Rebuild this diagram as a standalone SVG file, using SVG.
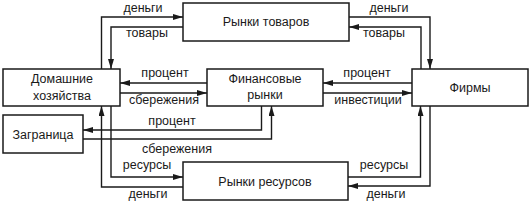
<svg xmlns="http://www.w3.org/2000/svg" width="531" height="204" viewBox="0 0 531 204">
<defs>
<marker id="ah" viewBox="0 0 10 6" refX="10" refY="3" markerWidth="10" markerHeight="6" markerUnits="userSpaceOnUse" orient="auto">
<path d="M0,0 L10,3 L0,6 Z" fill="#1a1a1a"/>
</marker>
<style>
rect{fill:#fff;stroke:#1a1a1a;stroke-width:1.5}
text{font-family:"Liberation Sans",Arial,sans-serif;font-size:12.5px;fill:#1a1a1a;text-anchor:middle}
.c path{fill:none;stroke:#1a1a1a;stroke-width:1.4}
.a{marker-end:url(#ah)}
</style>
</defs>
<rect x="0" y="0" width="531" height="204" style="fill:#fff;stroke:none"/>
<g class="c" id="connectors">
<path class="a" d="M101.5,69 V17 H183"/>
<path class="a" d="M183,27 H111 V69"/>
<path class="a" d="M349,17 H430 V69"/>
<path class="a" d="M421,69 V27 H349"/>
<path class="a" d="M207,83 H120"/>
<path class="a" d="M120,93 H207"/>
<path class="a" d="M412,83 H323"/>
<path class="a" d="M323,93 H412"/>
<path class="a" d="M261.5,106 V130 H83"/>
<path class="a" d="M83,139 H271.5 V106"/>
<path class="a" d="M183,187 H101.5 V106"/>
<path class="a" d="M111,106 V177 H183"/>
<path class="a" d="M348,177 H420.5 V106"/>
<path class="a" d="M430,106 V186 H348"/>
</g>
<g id="goods-market"><rect x="183" y="3" width="166" height="38"/><text x="266" y="26">Рынки товаров</text></g>
<g id="households"><rect x="3" y="69" width="117" height="37"/><text x="62" y="83">Домашние</text><text x="62" y="100">хозяйства</text></g>
<g id="financial-markets"><rect x="207" y="69" width="116" height="37"/><text x="265" y="83">Финансовые</text><text x="265" y="99">рынки</text></g>
<g id="firms"><rect x="412" y="69" width="116" height="37"/><text x="470" y="92">Фирмы</text></g>
<g id="abroad"><rect x="3" y="115" width="80" height="38"/><text x="43" y="139">Заграница</text></g>
<g id="resource-market"><rect x="183" y="162" width="165" height="38"/><text x="265" y="186">Рынки ресурсов</text></g>
<g id="labels">
<text x="143" y="12">деньги</text>
<text x="147" y="37">товары</text>
<text x="389" y="12">деньги</text>
<text x="384" y="37">товары</text>
<text x="165" y="77">процент</text>
<text x="164" y="104">сбережения</text>
<text x="367" y="77">процент</text>
<text x="368" y="104">инвестиции</text>
<text x="172" y="125">процент</text>
<text x="177" y="153">сбережения</text>
<text x="147" y="169">ресурсы</text>
<text x="148" y="198">деньги</text>
<text x="384" y="169">ресурсы</text>
<text x="386" y="198">деньги</text>
</g>
</svg>
